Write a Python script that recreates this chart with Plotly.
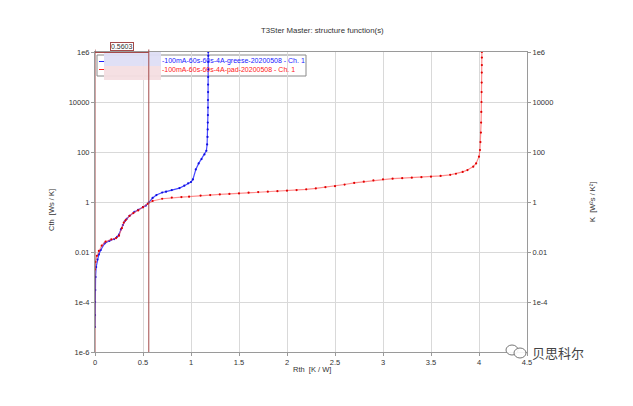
import plotly.graph_objects as go

# ---------------- data ----------------
greese_rth = [0.000, 0.000, 0.001, 0.003, 0.006, 0.012, 0.025, 0.04, 0.06, 0.10, 0.15, 0.20, 0.23, 0.25,
              0.27, 0.29, 0.31, 0.33, 0.36, 0.41, 0.45, 0.50, 0.53, 0.56, 0.60, 0.64, 0.70, 0.74, 0.80,
              0.88, 0.93, 0.97, 1.00, 1.02, 1.05, 1.08, 1.11, 1.14, 1.16, 1.168, 1.172, 1.174, 1.175,
              1.176, 1.177, 1.177, 1.178, 1.178, 1.179, 1.179, 1.18, 1.18, 1.18]
greese_cth = [1e-5, 3e-5, 1e-4, 3e-4, 1e-3, 2.5e-3, 5e-3, 8e-3, 0.012, 0.022, 0.028, 0.033, 0.040, 0.05,
              0.08, 0.12, 0.17, 0.21, 0.28, 0.40, 0.48, 0.62, 0.72, 0.95, 1.45, 1.9, 2.4, 2.6, 3.0,
              3.6, 4.5, 5.6, 6.3, 8.0, 20, 35, 52, 80, 112, 200, 400, 800, 1500,
              3000, 6000, 1.2e4, 2.5e4, 5e4, 1e5, 2e5, 4e5, 7e5, 1e6]

pad_rth = [0.000, 0.005, 0.02, 0.04, 0.07, 0.11, 0.17, 0.22, 0.25, 0.28, 0.30, 0.32, 0.36, 0.40, 0.45,
           0.50, 0.55, 0.60, 0.70, 0.80, 0.90, 0.98, 1.1, 1.2, 1.3, 1.4, 1.5, 1.6, 1.7, 1.8, 1.9, 2.0,
           2.1, 2.2, 2.3, 2.4, 2.5, 2.6, 2.7, 2.8, 2.9, 3.0, 3.1, 3.2, 3.3, 3.4, 3.5, 3.6, 3.7, 3.76,
           3.83, 3.88, 3.94, 3.97, 4.0, 4.01, 4.015, 4.02, 4.022, 4.024, 4.026, 4.027, 4.028, 4.029,
           4.03, 4.03, 4.03]
pad_cth = [2e-3, 4e-3, 7e-3, 0.011, 0.018, 0.026, 0.032, 0.036, 0.045, 0.09, 0.15, 0.19, 0.28, 0.36, 0.46,
           0.62, 0.85, 1.1, 1.35, 1.5, 1.58, 1.63, 1.8, 1.9, 2.0, 2.1, 2.2, 2.35, 2.5, 2.6, 2.7, 2.83,
           3.0, 3.2, 3.5, 3.9, 4.3, 5.0, 5.8, 6.5, 7.3, 8.1, 8.6, 9.0, 9.4, 9.8, 10.3, 11.0, 12.2, 13.5,
           16, 19, 26, 35, 65, 120, 250, 600, 1500, 4000, 1e4, 2.5e4, 6e4, 1.5e5,
           3e5, 6e5, 1e6]

x_ticks = [0, 0.5, 1, 1.5, 2, 2.5, 3, 3.5, 4, 4.5]
x_labels = ["0", "0.5", "1", "1.5", "2", "2.5", "3", "3.5", "4", "4.5"]
y_ticks = [1e-6, 1e-4, 1e-2, 1, 100, 1e4, 1e6]
y_labels = ["1e-6", "1e-4", "0.01", "1", "100", "10000", "1e6"]
y2_ticks = [1e-4, 1e-2, 1, 100, 1e4, 1e6]
y2_labels = ["1e-4", "0.01", "1", "100", "10000", "1e6"]

cursor_value = 0.5603
name_greese = "-100mA-60s-60s-4A-greese-20200508 - Ch. 1"
name_pad = "-100mA-60s-60s-4A-pad-20200508 - Ch. 1"

# ---------------- layout geometry ----------------
OFF = 8  # page body margin
W, H = 633 - OFF, 406 - OFF
L, R, T, B = 95, 527, 52, 352  # plot area in window pixels
FONT = "Liberation Sans, Arial, sans-serif"
TXT = "#333333"
CUR = "#a44a4a"


def px(xp):
    return (xp - L) / (R - L)


def py(yp):
    return (B - yp) / (B - T)


fig = go.Figure()

fig.add_trace(go.Scatter(
    x=greese_rth, y=greese_cth, mode="lines+markers", name=name_greese,
    line=dict(color="rgba(40,40,255,0.85)", width=1.2),
    marker=dict(color="#1010e0", size=2.2), showlegend=False))
fig.add_trace(go.Scatter(
    x=pad_rth, y=pad_cth, mode="lines+markers", name=name_pad,
    line=dict(color="rgba(255,80,80,0.65)", width=1.2),
    marker=dict(color="#e00000", size=2.2), showlegend=False))
# anchor trace for the right axis
fig.add_trace(go.Scatter(x=[0], y=[1], yaxis="y2", mode="markers",
                         marker=dict(opacity=0), hoverinfo="skip", showlegend=False))

axis_common = dict(showline=True, linecolor="#9a9a9a", linewidth=1,
                   ticks="outside", ticklen=3, tickcolor="#9a9a9a",
                   tickfont=dict(family=FONT, size=7.5, color=TXT), zeroline=False)

fig.update_layout(
    width=W, height=H,
    margin=dict(l=L - OFF, r=633 - R, t=T - OFF, b=406 - B),
    paper_bgcolor="white", plot_bgcolor="white",
    xaxis=dict(range=[0, 4.5], tickvals=x_ticks, ticktext=x_labels,
               showgrid=True, gridcolor="#d9d9d9", gridwidth=1, mirror=True, **axis_common),
    yaxis=dict(type="log", range=[-6, 6], tickvals=y_ticks, ticktext=y_labels,
               showgrid=True, gridcolor="#d9d9d9", gridwidth=1, mirror=True, **axis_common),
    yaxis2=dict(type="log", range=[-6, 6], tickvals=y2_ticks, ticktext=y2_labels,
                overlaying="y", side="right", showgrid=False, **axis_common),
    showlegend=False,
)


def label(text, xp, yp, size=7.5, color=TXT, xanchor="center", **kw):
    return dict(text=text, x=px(xp), y=py(yp), xref="paper", yref="paper",
                xanchor=xanchor, yanchor="middle", showarrow=False,
                font=dict(family=kw.pop("family", FONT), size=size, color=color), **kw)


ann = [
    label("T3Ster Master: structure function(s)", 322, 31, size=7.8),
    label("Rth  [K / W]", 312, 369),
    label("Cth  [Ws / K]", 52, 210, textangle=-90),
    label("K  [W²s / K²]", 592, 202, textangle=-90),
    label(name_greese, 160, 61.5, size=7, color="#2020ff", xanchor="left"),
    label(name_pad, 160, 69.5, size=7, color="#ff2020", xanchor="left"),
    label("贝思科尔", 530, 352, size=13, color="#444444", xanchor="left", family="Noto Sans CJK SC"),
    dict(text=f"{cursor_value:.4f}", x=cursor_value / 2, y=py(46.3), xref="x", yref="paper",
         xanchor="center", yanchor="middle",
         showarrow=False, bgcolor="white", bordercolor=CUR, borderwidth=1, borderpad=0,
         font=dict(family=FONT, size=7, color=TXT)),
]
fig.update_layout(annotations=ann)

shapes = []
shapes.append(dict(type="rect", xref="paper", yref="paper", x0=px(97), x1=px(306), y0=py(55), y1=py(76),
                   line=dict(color="#8a8a8a", width=1), fillcolor="white", layer="between"))
shapes.append(dict(type="line", xref="paper", yref="paper", x0=px(99), x1=px(106), y0=py(61.5), y1=py(61.5),
                   line=dict(color="#2020ff", width=1), layer="above"))
shapes.append(dict(type="line", xref="paper", yref="paper", x0=px(99), x1=px(106), y0=py(69.5), y1=py(69.5),
                   line=dict(color="#ff2020", width=1), layer="above"))
shapes.append(dict(type="rect", xref="paper", yref="paper", x0=px(104), x1=px(161), y0=py(52), y1=py(66),
                   line=dict(width=0), fillcolor="rgba(222,222,246,0.95)", layer="above"))
shapes.append(dict(type="rect", xref="paper", yref="paper", x0=px(104), x1=px(161), y0=py(66), y1=py(80),
                   line=dict(width=0), fillcolor="rgba(244,222,226,0.95)", layer="above"))
for cx in [0, cursor_value]:
    shapes.append(dict(type="line", xref="x", yref="paper", x0=cx, x1=cx, y0=0, y1=py(49.5),
                       line=dict(color=CUR, width=1), layer="above"))
shapes.append(dict(type="line", xref="x", yref="paper", x0=0, x1=cursor_value, y0=py(52.5), y1=py(52.5),
                   line=dict(color=CUR, width=1), layer="above"))
shapes.append(dict(type="circle", xref="paper", yref="paper", x0=px(506), x1=px(518), y0=py(355), y1=py(345),
                   line=dict(color="#777777", width=1), fillcolor="rgba(255,255,255,0.9)", layer="above"))
shapes.append(dict(type="circle", xref="paper", yref="paper", x0=px(514), x1=px(526), y0=py(358), y1=py(348),
                   line=dict(color="#777777", width=1), fillcolor="rgba(255,255,255,0.9)", layer="above"))
fig.update_layout(shapes=shapes)

fig.write_html("out.html")
